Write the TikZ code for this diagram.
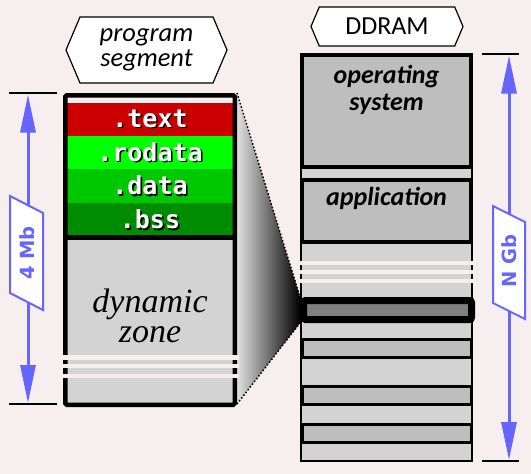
\documentclass[tikz,border=0pt]{standalone}
\usepackage{fontspec}
\setmainfont{Carlito}
\newfontfamily\zonefont{Liberation Serif}
\newfontfamily\secfont{DejaVu Sans Mono}
\newfontfamily\dimfont{DejaVu Sans}
\usetikzlibrary{arrows.meta,shapes.symbols}
\definecolor{pagebg}{HTML}{F7EEEF}
\definecolor{dimblue}{HTML}{6666FF}
\definecolor{textred}{HTML}{CC0000}
\definecolor{rodatagreen}{HTML}{00FF00}
\definecolor{datagreen}{HTML}{00C800}
\definecolor{bssgreen}{HTML}{008C00}
\definecolor{zonegray}{HTML}{D3D3D3}
\definecolor{blockgray}{HTML}{BEBEBE}
\definecolor{hotgray}{HTML}{808080}
\newcommand{\shadowed}[1]{\makebox[0pt][l]{\hspace{1.6pt}\raisebox{-1.6pt}{\color{black}#1}}#1}
\tikzset{
      sectionbox/.style={
        minimum width=166pt,
        minimum height=33.8pt,
        inner sep=0pt,
        text=white,
        font=\secfont\bfseries\fontsize{25}{25}\selectfont
      },
      tagbox/.style={
        signal,
        signal to=west and east,
        signal pointer angle=134,
        draw=black,
        line width=1.2pt,
        fill=white,
        inner sep=0pt,
        align=center
      },
      bigblock/.style={draw=black, line width=4pt, fill=blockgray},
      slotblock/.style={draw=black, line width=3pt, fill=blockgray},
      hotblock/.style={draw=black, line width=7pt, fill=hotgray, rounded corners=2pt},
      breakline/.style={draw=pagebg, line width=4.5pt},
      dimtick/.style={draw=black, line width=1.5pt},
      dimarrow/.style={
        draw=dimblue,
        line width=3pt,
        {Triangle[length=38pt,width=15pt]}-{Triangle[length=38pt,width=15pt]}
      },
      dimtag/.style={draw=dimblue, line width=2pt, fill=white},
      dimlabel/.style={
        text=dimblue,
        inner sep=0pt,
        rotate=90,
        font=\dimfont\bfseries\fontsize{19.5}{19.5}\selectfont
      },
      blocktext/.style={
        inner sep=0pt,
        align=center,
        font=\bfseries\itshape\fontsize{26}{27}\selectfont
      }
    }
\begin{document}
\begin{tikzpicture}[x=1pt,y=-1pt]
    \useasboundingbox (0,0) rectangle (531,474);
    \fill[pagebg] (0,0) rectangle (531,474);

    % zoom cone from the program segment to its slot in DDRAM
    \coordinate (conetop) at (237,93);
    \coordinate (conebot) at (237,404);
    \coordinate (slottop) at (300,297);
    \coordinate (slotbot) at (300,323);
    \shade[left color=black!12, right color=black] (conetop) -- (slottop) -- (slotbot) -- (conebot) -- cycle;
    \draw[dotted, line width=1.5pt] (conetop) -- (slottop);
    \draw[dotted, line width=1.5pt] (conebot) -- (slotbot);

    % program segment column
    \node[sectionbox, fill=textred] (text) at (150,119.5) {\shadowed{.text}};
    \node[sectionbox, fill=rodatagreen] (rodata) at (150,152.5) {\shadowed{.rodata}};
    \node[sectionbox, fill=datagreen] (data) at (150,186) {\shadowed{.data}};
    \node[sectionbox, fill=bssgreen] (bss) at (150,220) {\shadowed{.bss}};
    \fill[zonegray] (67,237) rectangle (233,403);
    \draw[line width=4.5pt] (65,237.5) -- (235,237.5);
    \node[inner sep=0pt, align=center, font=\zonefont\itshape\fontsize{34}{30}\selectfont] (zone) at (150,316) {dynamic\\zone};
    \draw[line width=4.5pt, rounded corners=1.5pt] (65.25,95.25) rectangle (234.75,404.75);
    \foreach \y in {357.5,366,376}
      \draw[breakline] (61,\y) -- (239,\y);

    % DDRAM column
    \draw[fill=zonegray, line width=2.2pt] (301,54) rectangle (472,461);
    \draw[bigblock] (302,55) rectangle (471,167);
    \draw[bigblock] (302,180) rectangle (471,242);
    \foreach \top/\bot in {339/357.5,386/404.5,424.5/442.5}
      \draw[slotblock] (302.5,\top) rectangle (471.5,\bot);
    \draw[hotblock] (303.5,300.5) rectangle (471.5,319.5);
    \foreach \y in {263,272,281}
      \draw[breakline] (299,\y) -- (474,\y);
    \node[blocktext, anchor=north] (os) at (386.5,65) {operating\\system};
    \node[blocktext, anchor=north] (app) at (386.5,187) {application};

    % column titles
    \node[tagbox, minimum width=161pt, minimum height=66pt, font=\itshape\fontsize{26.5}{25}\selectfont] (proglbl) at (146.5,50) {program\\segment};
    \node[tagbox, minimum width=152pt, minimum height=39pt, font=\fontsize{26}{26}\selectfont] (ramlbl) at (387,26.5) {DDRAM};

    % size of the program segment
    \coordinate (mbtop) at (28,94.5);
    \coordinate (mbbot) at (28,403);
    \draw[dimtick] (9,93) -- (57,93);
    \draw[dimtick] (9,404) -- (57,404);
    \draw[dimarrow] (mbtop) -- (mbbot);
    \draw[dimtag] (10,196) -- (43,213) -- (43,310) -- (10,293) -- cycle;
    \node[dimlabel] (mb) at (27,253) {4 Mb};

    % size of the DDRAM
    \coordinate (gbtop) at (509,55.5);
    \coordinate (gbbot) at (509,460);
    \draw[dimtick] (482,54) -- (519,54);
    \draw[dimtick] (482,461) -- (519,461);
    \draw[dimarrow] (gbtop) -- (gbbot);
    \draw[dimtag] (493,206) -- (525,222) -- (525,319) -- (493,303) -- cycle;
    \node[dimlabel] (gb) at (509,261) {N Gb};
\end{tikzpicture}
\end{document}
